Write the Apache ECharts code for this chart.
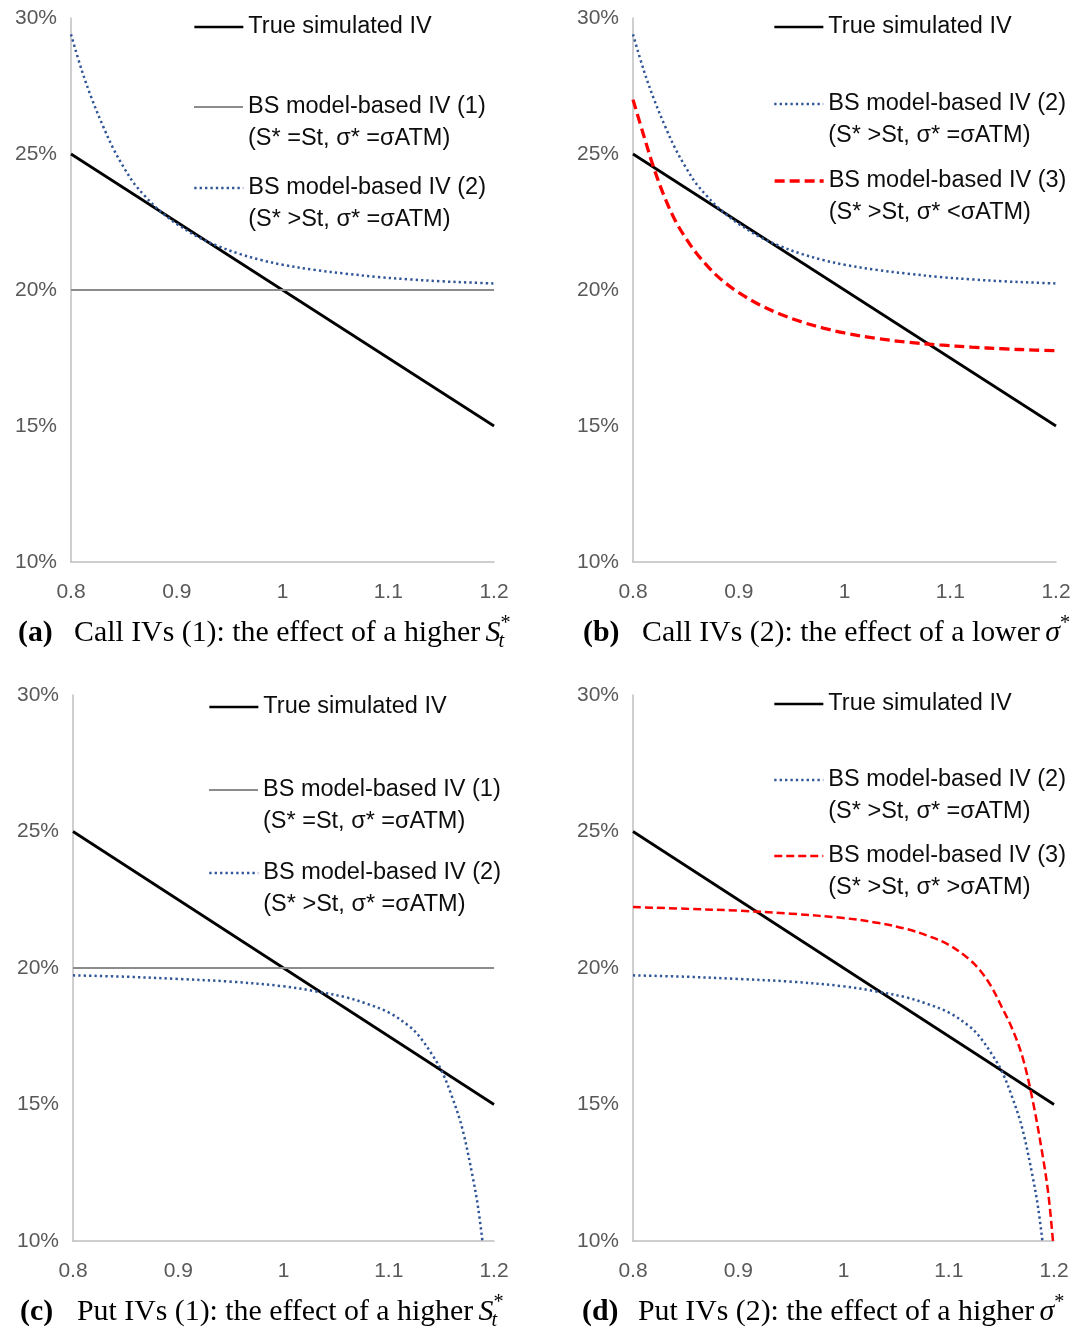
<!DOCTYPE html>
<html><head><meta charset="utf-8">
<script src="https://cdn.jsdelivr.net/npm/echarts@6/dist/echarts.min.js"></script>
<style>html,body{margin:0;padding:0;background:#fff}#c{width:1081px;height:1331px}</style>
</head><body><div id="c"></div>
<script>
// ---------------- data ----------------
const xTickLabels = ['0.8', '0.9', '1', '1.1', '1.2'];
const yTickLabels = ['10%', '15%', '20%', '25%', '30%'];

const lineEnds = [0.8, 1.2];
const trueIV = [25, 15];
const bsIV1 = [20, 20];

const callStrikes = [0.80, 0.81, 0.82, 0.83, 0.84, 0.85, 0.86, 0.87, 0.88, 0.89, 0.90, 0.92, 0.94, 0.96, 0.98, 1.00, 1.03, 1.06, 1.09, 1.12, 1.15, 1.18, 1.20];
const callIV2 = [29.4, 28.1, 27.0, 26.05, 25.2, 24.5, 23.9, 23.45, 23.05, 22.72, 22.43, 21.95, 21.6, 21.32, 21.1, 20.93, 20.74, 20.6, 20.48, 20.39, 20.32, 20.27, 20.24];
const callIV3Lower = [27.0, 25.7, 24.45, 23.4, 22.55, 21.9, 21.35, 20.9, 20.5, 20.18, 19.9, 19.45, 19.1, 18.82, 18.6, 18.42, 18.22, 18.08, 17.98, 17.9, 17.84, 17.79, 17.77];

const putStrikes2 = [0.80, 0.85, 0.90, 0.95, 1.00, 1.03, 1.06, 1.08, 1.10, 1.12, 1.13, 1.14, 1.15, 1.16, 1.17, 1.18, 1.185, 1.189];
const putIV2 = [19.73, 19.68, 19.6, 19.5, 19.33, 19.15, 18.92, 18.68, 18.37, 17.85, 17.45, 16.9, 16.25, 15.3, 14.1, 12.3, 11.2, 10.0];

const putStrikes3 = [0.80, 0.85, 0.90, 0.95, 1.00, 1.03, 1.06, 1.08, 1.10, 1.12, 1.13, 1.14, 1.15, 1.16, 1.17, 1.18, 1.19, 1.195, 1.199];
const putIV3Higher = [22.23, 22.17, 22.1, 21.99, 21.83, 21.67, 21.43, 21.18, 20.85, 20.3, 19.9, 19.35, 18.6, 17.8, 16.75, 15.1, 12.95, 11.6, 10.0];

const seriesNames = {
  trueIV: 'True simulated IV',
  bs1: 'BS model-based IV (1)\n(S* =St, σ* =σATM)',
  bs2: 'BS model-based IV (2)\n(S* >St, σ* =σATM)',
  bs3lo: 'BS model-based IV (3)\n(S* >St, σ* <σATM)',
  bs3hi: 'BS model-based IV (3)\n(S* >St, σ* >σATM)'
};

const captionTexts = [
  { label: '(a)', text: 'Call IVs (1): the effect of a higher', sym: 'S', sub: 't', sup: '*' },
  { label: '(b)', text: 'Call IVs (2): the effect of a lower', sym: 'σ', sub: '', sup: '*' },
  { label: '(c)', text: 'Put IVs (1): the effect of a higher', sym: 'S', sub: 't', sup: '*' },
  { label: '(d)', text: 'Put IVs (2): the effect of a higher', sym: 'σ', sub: '', sup: '*' }
];

// ---------------- layout / style ----------------
const SANS = '"Liberation Sans", Arial, sans-serif';
const SERIF = '"Liberation Serif", "Times New Roman", serif';
const grids = [
  { left: 71, top: 18, width: 423, height: 544 },
  { left: 633, top: 18, width: 423, height: 544 },
  { left: 73, top: 695, width: 421, height: 546 },
  { left: 633, top: 695, width: 421, height: 546 }
];
const captionPos = [
  { x0: 18, x1: 74, base: 643 },
  { x0: 583, x1: 642, base: 643 },
  { x0: 20, x1: 77, base: 1322 },
  { x0: 582, x1: 638, base: 1322 }
];
const legendPos = [
  ['trueIV', 193, 27, false], ['bs1', 193, 107, true], ['bs2', 193, 188, true],
  ['trueIV', 773, 27, false], ['bs2', 773, 104, true], ['bs3lo', 773, 181, true],
  ['trueIV', 208, 707, false], ['bs1', 208, 790, true], ['bs2', 208, 873, true],
  ['trueIV', 773, 704, false], ['bs2', 773, 780, true], ['bs3hi', 773, 856, true]
];

const styles = {
  trueIV: { color: '#000000', width: 2.7, type: 'solid' },
  bs1: { color: '#8C8C8C', width: 2, type: 'solid' },
  bs2: { color: '#2F5597', width: 2.5, type: [2.3, 3.1] },
  bs3lo: { color: '#FF0000', width: 3.3, type: [10, 5] },
  bs3hi: { color: '#FF0000', width: 2.5, type: [8, 4] }
};

function pairs(xs, ys) { return xs.map((x, i) => [x, ys[i]]); }

const panelSeries = [
  [['trueIV', lineEnds, trueIV], ['bs1', lineEnds, bsIV1], ['bs2', callStrikes, callIV2]],
  [['trueIV', lineEnds, trueIV], ['bs2', callStrikes, callIV2], ['bs3lo', callStrikes, callIV3Lower]],
  [['trueIV', lineEnds, trueIV], ['bs1', lineEnds, bsIV1], ['bs2', putStrikes2, putIV2]],
  [['trueIV', lineEnds, trueIV], ['bs2', putStrikes2, putIV2], ['bs3hi', putStrikes3, putIV3Higher]]
];

const axisLineStyle = { color: '#BFBFBF', width: 1.5 };
const xAxes = grids.map((g, i) => ({
  gridIndex: i, type: 'value', min: 0.8, max: 1.2, interval: 0.1,
  axisLine: { show: true, onZero: false, lineStyle: axisLineStyle },
  axisTick: { show: false }, splitLine: { show: false },
  axisLabel: {
    color: '#595959', fontSize: 21, fontFamily: SANS, margin: 20,
    formatter: v => xTickLabels[Math.round((v - 0.8) / 0.1)]
  }
}));
const yAxes = grids.map((g, i) => ({
  gridIndex: i, type: 'value', min: 10, max: 30, interval: 5,
  axisLine: { show: true, onZero: false, lineStyle: axisLineStyle },
  axisTick: { show: false }, splitLine: { show: false },
  axisLabel: {
    color: '#595959', fontSize: 21, fontFamily: SANS, margin: 14,
    formatter: v => yTickLabels[Math.round((v - 10) / 5)]
  }
}));

const series = [];
panelSeries.forEach((list, gi) => {
  list.forEach(([key, xs, ys]) => {
    const st = styles[key];
    series.push({
      type: 'line', name: seriesNames[key], xAxisIndex: gi, yAxisIndex: gi,
      data: pairs(xs, ys), symbol: 'none', showSymbol: false,
      smooth: 0.35, clip: true,
      lineStyle: { color: st.color, width: st.width, type: st.type },
      itemStyle: { color: st.color },
      emphasis: { disabled: true }, animation: false
    });
  });
});

const LH = 32;
const legends = legendPos.map(([key, left, iconY, two]) => ({
  data: [seriesNames[key]], left: left, top: iconY - (two ? 1.5 * LH : LH / 2),
  orient: 'vertical', padding: 0, itemWidth: 49, itemHeight: 14,
  selectedMode: false,
  itemStyle: { color: 'rgba(0,0,0,0)', borderWidth: 0, opacity: 0 },
  lineStyle: { width: styles[key].width, color: styles[key].color, type: styles[key].type },
  formatter: n => (two ? ' \n' : '') + n,
  textStyle: { fontFamily: SANS, fontSize: 23.5, color: '#0D0D0D', lineHeight: LH }
}));

// captions
const cv = document.createElement('canvas').getContext('2d');
function tw(font, s) { cv.font = font; return cv.measureText(s).width; }
const capFs = 26 * 398 / tw('26px ' + SERIF, captionTexts[1].text);
const graphics = [];
function addText(x, base, str, font, fs) {
  graphics.push({
    type: 'text', x: x, y: base - 0.34 * fs, silent: true,
    style: { text: str, font: font, fill: '#000', textAlign: 'left', verticalAlign: 'middle', textVerticalAlign: 'middle' }
  });
}
captionTexts.forEach((c, i) => {
  const p = captionPos[i];
  const fMain = capFs.toFixed(2) + 'px ' + SERIF;
  addText(p.x0, p.base, c.label, 'bold ' + fMain, capFs);
  addText(p.x1, p.base, c.text, fMain, capFs);
  const sx = p.x1 + tw(fMain, c.text) + capFs * 0.18;
  const fSym = 'italic ' + fMain;
  addText(sx, p.base, c.sym, fSym, capFs);
  const w = tw(fSym, c.sym);
  const sfs = capFs * 0.68;
  const fSmall = sfs.toFixed(2) + 'px ' + SERIF;
  if (c.sub) addText(sx + w - 2, p.base + capFs * 0.2, c.sub, 'italic ' + fSmall, sfs);
  if (c.sup) addText(sx + w, p.base - capFs * 0.42, c.sup, fSmall, sfs);
});

const chart = echarts.init(document.getElementById('c'), null, { renderer: 'canvas' });
chart.setOption({
  backgroundColor: '#ffffff',
  animation: false,
  grid: grids.map(g => Object.assign({ containLabel: false, outerBoundsMode: 'none' }, g)),
  xAxis: xAxes,
  yAxis: yAxes,
  legend: legends,
  series: series,
  graphic: { elements: graphics }
});
</script>
</body></html>
